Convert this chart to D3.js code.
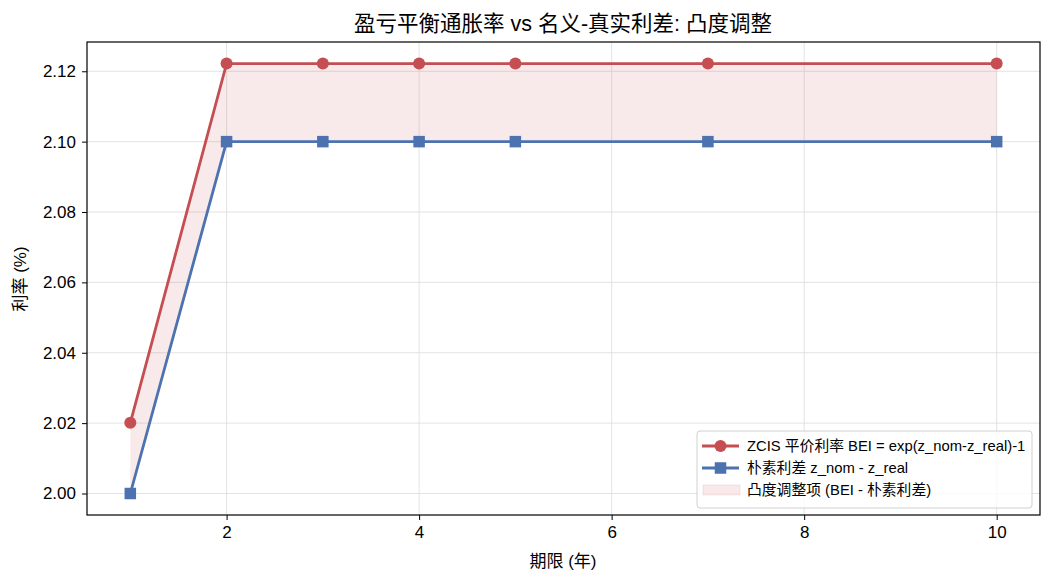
<!DOCTYPE html>
<html>
<head>
<meta charset="utf-8">
<script src="https://cdn.jsdelivr.net/npm/d3@7"></script>
<style>
  body { margin: 0; background: #fff; }
  svg text { font-family: "Liberation Sans", Arial, "Noto Sans CJK SC", sans-serif; fill: #000; }
</style>
</head>
<body>
<div id="chart"></div>
<script>
// 期限 (年) と各系列の値 (%)
const tenors = [1, 2, 3, 4, 5, 7, 10];
const beiValues = [2.0201, 2.1222, 2.1222, 2.1222, 2.1222, 2.1222, 2.1222];
const spreadValues = [2.0, 2.1, 2.1, 2.1, 2.1, 2.1, 2.1];
const xTicks = [2, 4, 6, 8, 10];
const yTicks = [2.00, 2.02, 2.04, 2.06, 2.08, 2.10, 2.12];
const legendLabels = ["ZCIS 平价利率 BEI = exp(z_nom-z_real)-1", "朴素利差 z_nom - z_real", "凸度调整项 (BEI - 朴素利差)"];

const width = 1052, height = 584;
const margin = { top: 42, right: 12, bottom: 69, left: 87 };
const red = "#c44e52", blue = "#4c72b0";

const svg = d3.select("#chart").append("svg")
  .attr("width", width).attr("height", height);

const x = d3.scaleLinear().domain([0.55, 10.45]).range([margin.left, width - margin.right]);
const y = d3.scaleLinear().domain([1.99389, 2.12832]).range([height - margin.bottom, margin.top]);

const rows = tenors.map((t, i) => ({ t, bei: beiValues[i], sp: spreadValues[i] }));

// grid
const g = svg.append("g");
g.selectAll(".gx").data(xTicks).enter().append("line")
  .attr("x1", d => x(d)).attr("x2", d => x(d))
  .attr("y1", margin.top).attr("y2", height - margin.bottom)
  .attr("stroke", "#dcdcdc").attr("stroke-width", 0.8);
g.selectAll(".gy").data(yTicks).enter().append("line")
  .attr("x1", margin.left).attr("x2", width - margin.right)
  .attr("y1", d => y(d)).attr("y2", d => y(d))
  .attr("stroke", "#dcdcdc").attr("stroke-width", 0.8);

// fill between
const area = d3.area().x(d => x(d.t)).y0(d => y(d.sp)).y1(d => y(d.bei));
svg.append("path").datum(rows).attr("d", area)
  .attr("fill", red).attr("fill-opacity", 0.12);

// lines
const lineBei = d3.line().x(d => x(d.t)).y(d => y(d.bei));
const lineSp = d3.line().x(d => x(d.t)).y(d => y(d.sp));
svg.append("path").datum(rows).attr("d", lineBei)
  .attr("fill", "none").attr("stroke", red).attr("stroke-width", 2.8);
svg.append("path").datum(rows).attr("d", lineSp)
  .attr("fill", "none").attr("stroke", blue).attr("stroke-width", 2.8);

svg.selectAll(".dot").data(rows).enter().append("circle")
  .attr("cx", d => x(d.t)).attr("cy", d => y(d.bei)).attr("r", 6).attr("fill", red);
svg.selectAll(".sq").data(rows).enter().append("rect")
  .attr("x", d => x(d.t) - 5.75).attr("y", d => y(d.sp) - 5.75)
  .attr("width", 11.5).attr("height", 11.5).attr("fill", blue);

// axes
const xAxis = svg.append("g").attr("transform", `translate(0,${height - margin.bottom})`)
  .call(d3.axisBottom(x).tickValues(xTicks).tickSize(5).tickPadding(4).tickFormat(d3.format("d")));
const yAxis = svg.append("g").attr("transform", `translate(${margin.left},0)`)
  .call(d3.axisLeft(y).tickValues(yTicks).tickSize(5).tickPadding(6).tickFormat(d3.format(".2f")));
[xAxis, yAxis].forEach(a => {
  a.select(".domain").remove();
  a.selectAll("text").attr("font-size", 17);
  a.selectAll("line").attr("stroke", "#000").attr("stroke-width", 1);
});
xAxis.selectAll("text").attr("dy", "0.85em");

// frame
svg.append("rect")
  .attr("x", margin.left).attr("y", margin.top)
  .attr("width", width - margin.left - margin.right)
  .attr("height", height - margin.top - margin.bottom)
  .attr("fill", "none").attr("stroke", "#000").attr("stroke-width", 1.2);

// labels
svg.append("text").attr("x", 563).attr("y", 31)
  .attr("text-anchor", "middle").attr("font-size", 21.5).text("盈亏平衡通胀率 vs 名义-真实利差: 凸度调整");
svg.append("text").attr("x", 563).attr("y", 567)
  .attr("text-anchor", "middle").attr("font-size", 17).text("期限 (年)");
svg.append("text").attr("transform", "translate(26,279) rotate(-90)")
  .attr("text-anchor", "middle").attr("font-size", 17).text("利率 (%)");

// legend
const lg = svg.append("g").attr("transform", "translate(697,431)");
lg.append("rect").attr("width", 335).attr("height", 77).attr("rx", 3)
  .attr("fill", "#fff").attr("fill-opacity", 0.8).attr("stroke", "#d0d0d0");
const items = lg.selectAll(".it").data(legendLabels).enter().append("g")
  .attr("transform", (d, i) => `translate(0,${15 + i * 22})`);
items.append("text").attr("x", 50).attr("y", 0).attr("dy", "0.35em")
  .attr("font-size", 14.8).text(d => d);
items.filter((d, i) => i < 2).append("line")
  .attr("x1", 5).attr("x2", 42).attr("y1", 0).attr("y2", 0)
  .attr("stroke", (d, i) => i === 0 ? red : blue).attr("stroke-width", 2.8);
items.filter((d, i) => i === 0).append("circle").attr("cx", 23.5).attr("cy", 0).attr("r", 6).attr("fill", red);
items.filter((d, i) => i === 1).append("rect").attr("x", 17.75).attr("y", -5.75).attr("width", 11.5).attr("height", 11.5).attr("fill", blue);
items.filter((d, i) => i === 2).append("rect").attr("x", 6).attr("y", -5).attr("width", 37).attr("height", 10)
  .attr("fill", red).attr("fill-opacity", 0.12).attr("stroke", red).attr("stroke-opacity", 0.12);
</script>
</body>
</html>
